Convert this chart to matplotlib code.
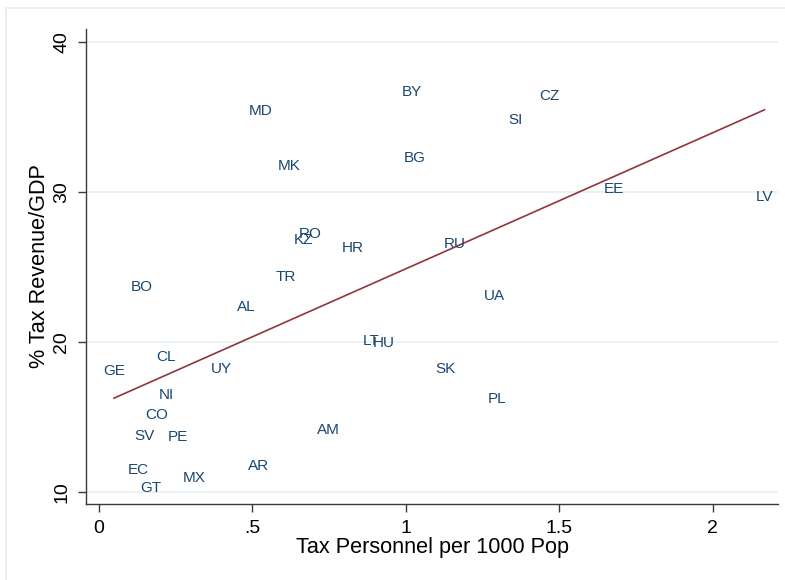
import numpy as np
import matplotlib
matplotlib.use("Agg")
import matplotlib.pyplot as plt
from matplotlib.patches import Rectangle
from matplotlib.transforms import ScaledTranslation

plt.rcParams['font.family'] = ['Liberation Sans', 'DejaVu Sans']

# Country codes with tax personnel per 1000 population and tax revenue as % of GDP
countries = ["MD", "BY", "MK", "BG", "KZ", "RO", "HR", "CZ", "SI", "EE", "LV",
             "RU", "UA", "TR", "BO", "AL", "LT", "HU", "CL", "GE", "UY", "NI",
             "CO", "SV", "PE", "AM", "EC", "AR", "MX", "GT", "SK", "PL"]
tax_personnel = [0.529, 1.021, 0.620, 1.029, 0.669, 0.688, 0.828, 1.470, 1.359,
                 1.680, 2.169, 1.159, 1.291, 0.610, 0.139, 0.481, 0.889, 0.929,
                 0.221, 0.050, 0.400, 0.221, 0.190, 0.149, 0.258, 0.750, 0.130,
                 0.521, 0.310, 0.170, 1.130, 1.299]
tax_revenue = [35.45, 36.75, 31.81, 32.35, 26.91, 27.25, 26.35, 36.45, 34.91,
               30.25, 29.75, 26.58, 23.15, 24.41, 23.75, 22.38, 20.15, 20.01,
               19.11, 18.15, 18.31, 16.55, 15.21, 13.81, 13.75, 14.21, 11.55,
               11.81, 11.01, 10.35, 18.25, 16.25]

x_ticks = [0, 0.5, 1, 1.5, 2]
x_ticklabels = ["0", ".5", "1", "1.5", "2"]
y_ticks = [10, 20, 30, 40]

navy = "#1a476f"
maroon = "#90353b"
grid_col = "#eaf2f3"
axis_col = "#3a3a3a"

W, H = 785, 580
fig = plt.figure(figsize=(W / 100, H / 100), dpi=100)
fig.patch.set_facecolor("white")

# light outer frame of the graph region
fig.patches.append(Rectangle((6 / W, -0.05), 1.2, (H - 8) / H + 0.05,
                             transform=fig.transFigure, fill=False,
                             edgecolor="#e6edf1", linewidth=1.2))

ax = fig.add_axes([86 / W, 1 - 504 / H, (778 - 86) / W, (504 - 29) / H])
ax.set_xlim(-0.041, 2.213)
ax.set_ylim(9.18, 40.85)

for y in y_ticks:
    ax.axhline(y, color=grid_col, linewidth=1.5, zorder=0)

x = np.array(tax_personnel)
y = np.array(tax_revenue)

# linear fit over the observed range
slope, intercept = np.polyfit(x, y, 1)
xf = np.array([x.min(), x.max()])
ax.plot(xf, intercept + slope * xf, color=maroon, linewidth=1.2, zorder=2)

# marker labels centred on each observation (cap height centred on the point)
label_size = 11
cap_shift = ScaledTranslation(0, -0.716 * label_size / 72 / 2, fig.dpi_scale_trans)
for code, xi, yi in zip(countries, x, y):
    ax.text(xi, yi, code, color=navy, fontsize=label_size, ha="center",
            va="baseline", transform=ax.transData + cap_shift, zorder=3)

for side in ("top", "right"):
    ax.spines[side].set_visible(False)
for side in ("left", "bottom"):
    ax.spines[side].set_color(axis_col)
    ax.spines[side].set_linewidth(1.0)

ax.set_xticks(x_ticks)
ax.set_xticklabels(x_ticklabels)
ax.set_yticks(y_ticks)
ax.set_yticklabels([str(v) for v in y_ticks])
ax.tick_params(axis="both", direction="out", length=5.8, width=1.0,
               color=axis_col, labelsize=14, labelcolor="black", pad=5.5)
for lab in ax.get_yticklabels():
    lab.set_rotation(90)
    lab.set_va("center")
    lab.set_ha("right")

fig.text(432 / W, 1 - 547 / H, "Tax Personnel per 1000 Pop", fontsize=15.6,
         ha="center", va="center")
fig.text(40 / W, 1 - 266.5 / H, "% Tax Revenue/GDP", fontsize=15.6,
         rotation=90, ha="center", va="center")

fig.savefig("out.png", dpi=100, facecolor="white")
